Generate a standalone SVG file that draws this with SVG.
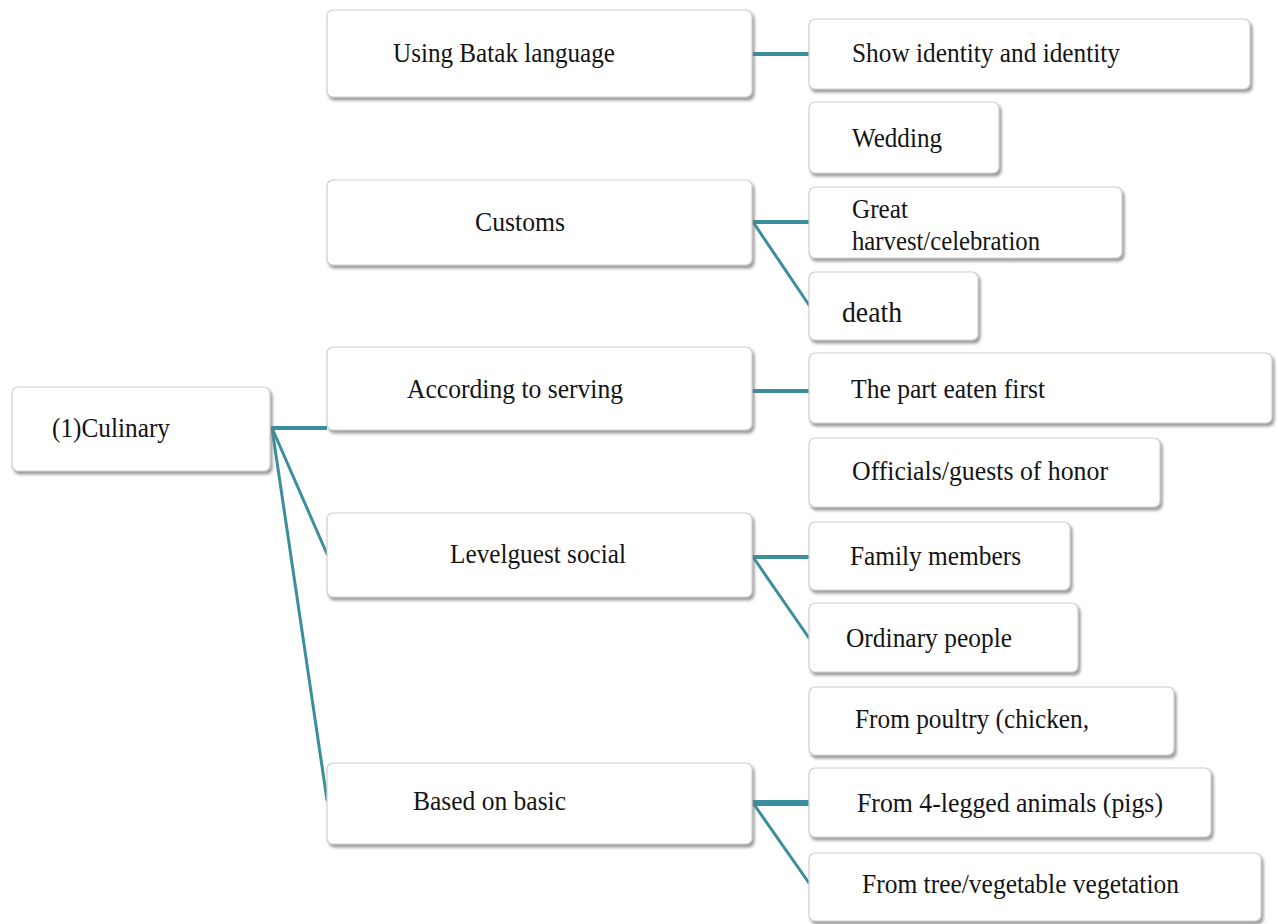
<svg xmlns="http://www.w3.org/2000/svg" width="1278" height="924" viewBox="0 0 1278 924">
<defs>
<filter id="sh" x="-5%" y="-10%" width="112%" height="130%">
<feDropShadow dx="2" dy="3" stdDeviation="1.5" flood-color="#7a7a7a" flood-opacity="0.75"/>
</filter>
<style>
.box{fill:#ffffff;stroke:#cfcfcf;stroke-width:1.2;filter:url(#sh)}
.t{font-family:"Liberation Serif","Times New Roman",serif;font-size:28px;fill:#141414}
.c{stroke:#3b8e9c;stroke-width:3;fill:none;stroke-linecap:round}
.ch{stroke:#3b8e9c;stroke-width:4;fill:none}
</style>
</defs>
<rect width="1278" height="924" fill="#ffffff"/>
<g id="connectors">
<line class="ch" x1="271" y1="428" x2="327" y2="428"/>
<line class="c" x1="272" y1="428" x2="327" y2="554"/>
<line class="c" x1="272" y1="428" x2="327" y2="800"/>
<line class="ch" x1="752" y1="54" x2="809" y2="54"/>
<line class="ch" x1="752" y1="222" x2="809" y2="222"/>
<line class="c" x1="753" y1="222" x2="809" y2="305"/>
<line class="ch" x1="752" y1="391" x2="809" y2="391"/>
<line class="ch" x1="752" y1="557" x2="809" y2="557"/>
<line class="c" x1="753" y1="557" x2="809" y2="638"/>
<line class="ch" x1="752" y1="803" x2="809" y2="803" style="stroke-width:6"/>
<line class="c" x1="753" y1="803" x2="809" y2="883"/>
</g>
<g id="n-culinary"><rect class="box" x="12" y="387" width="258" height="84" rx="6"/><text class="t" x="52" y="437" textLength="118" lengthAdjust="spacingAndGlyphs">(1)Culinary</text></g>
<g id="n-batak"><rect class="box" x="327" y="10" width="425" height="87" rx="6"/><text class="t" x="393" y="62" textLength="222" lengthAdjust="spacingAndGlyphs">Using Batak language</text></g>
<g id="n-customs"><rect class="box" x="327" y="180" width="425" height="85" rx="6"/><text class="t" x="475" y="231" textLength="90" lengthAdjust="spacingAndGlyphs">Customs</text></g>
<g id="n-serving"><rect class="box" x="327" y="347" width="425" height="83" rx="6"/><text class="t" x="407" y="398" textLength="216" lengthAdjust="spacingAndGlyphs">According to serving</text></g>
<g id="n-levelguest"><rect class="box" x="327" y="513" width="425" height="84" rx="6"/><text class="t" x="450" y="563" textLength="176" lengthAdjust="spacingAndGlyphs">Levelguest social</text></g>
<g id="n-basic"><rect class="box" x="327" y="763" width="425" height="81" rx="6"/><text class="t" x="413" y="810" textLength="153" lengthAdjust="spacingAndGlyphs">Based on basic</text></g>
<g id="n-identity"><rect class="box" x="809" y="19" width="441" height="70" rx="6"/><text class="t" x="852" y="62" textLength="268" lengthAdjust="spacingAndGlyphs">Show identity  and identity</text></g>
<g id="n-wedding"><rect class="box" x="809" y="102" width="190" height="71" rx="6"/><text class="t" x="852" y="147" textLength="90" lengthAdjust="spacingAndGlyphs">Wedding</text></g>
<g id="n-harvest"><rect class="box" x="809" y="187" width="313" height="71" rx="6"/><text class="t" x="852" y="218" textLength="56" lengthAdjust="spacingAndGlyphs">Great</text><text class="t" x="852" y="250" textLength="188" lengthAdjust="spacingAndGlyphs">harvest/celebration</text></g>
<g id="n-death"><rect class="box" x="809" y="272" width="169" height="68" rx="6"/><text class="t" x="842" y="322" style="font-size:30px" textLength="60" lengthAdjust="spacingAndGlyphs">death</text></g>
<g id="n-part"><rect class="box" x="809" y="353" width="463" height="70" rx="6"/><text class="t" x="851" y="398" textLength="194" lengthAdjust="spacingAndGlyphs">The part eaten  first</text></g>
<g id="n-officials"><rect class="box" x="809" y="438" width="351" height="69" rx="6"/><text class="t" x="852" y="480" textLength="256" lengthAdjust="spacingAndGlyphs">Officials/guests  of honor</text></g>
<g id="n-family"><rect class="box" x="809" y="522" width="261" height="68" rx="6"/><text class="t" x="850" y="565" textLength="171" lengthAdjust="spacingAndGlyphs">Family  members</text></g>
<g id="n-ordinary"><rect class="box" x="809" y="603" width="269" height="69" rx="6"/><text class="t" x="846" y="647" textLength="166" lengthAdjust="spacingAndGlyphs">Ordinary people</text></g>
<g id="n-poultry"><rect class="box" x="809" y="687" width="365" height="68" rx="6"/><text class="t" x="855" y="728" textLength="234" lengthAdjust="spacingAndGlyphs">From poultry (chicken,</text></g>
<g id="n-legged"><rect class="box" x="809" y="768" width="402" height="69" rx="6"/><text class="t" x="857" y="812" textLength="306" lengthAdjust="spacingAndGlyphs">From 4-legged animals  (pigs)</text></g>
<g id="n-tree"><rect class="box" x="809" y="853" width="452" height="68" rx="6"/><text class="t" x="862" y="893" textLength="317" lengthAdjust="spacingAndGlyphs">From tree/vegetable  vegetation</text></g>
</svg>
